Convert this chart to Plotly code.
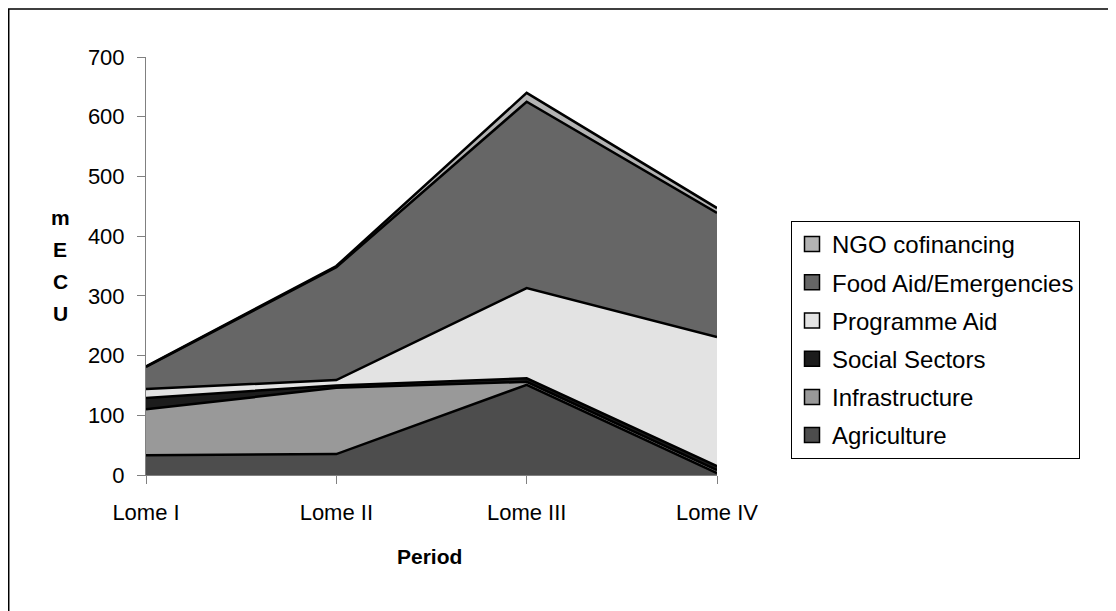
import plotly.graph_objects as go

periods = ["Lome I", "Lome II", "Lome III", "Lome IV"]
agriculture = [33, 35, 151, 3]
infrastructure = [77, 111, 5, 5]
social_sectors = [19, 4, 6, 7]
programme_aid = [15, 9, 151, 216]
food_aid = [37, 189, 312, 208]
ngo_cofinancing = [1, 2, 15, 8]

series = [
    ("Agriculture", agriculture, "#4d4d4d"),
    ("Infrastructure", infrastructure, "#999999"),
    ("Social Sectors", social_sectors, "#1c1c1c"),
    ("Programme Aid", programme_aid, "#e3e3e3"),
    ("Food Aid/Emergencies", food_aid, "#666666"),
    ("NGO cofinancing", ngo_cofinancing, "#b3b3b3"),
]
y_title_letters = ["m", "E", "C", "U"]

FONT = "Liberation Sans, Arial, sans-serif"

fig = go.Figure()
for name, vals, col in series:
    fig.add_trace(go.Scatter(
        x=periods, y=vals, name=name, mode="lines",
        stackgroup="one", showlegend=False,
        line=dict(color="black", width=2.5),
        fillcolor=col,
    ))
# legend entries with square swatches (top of stack listed first)
for name, vals, col in reversed(series):
    fig.add_trace(go.Scatter(
        x=[None], y=[None], name=name, mode="markers", legendgroup=name,
        marker=dict(symbol="square", size=15, color=col,
                    line=dict(color="black", width=1.5)),
    ))

W, H = 1116, 611
# page body has an 8px margin, so figure coords = page coords - 8
L, R, T, B = 138, 407, 49, 144

annotations = []
for i, letter in enumerate(y_title_letters):
    annotations.append(dict(
        text="<b>%s</b>" % letter, xref="paper", yref="paper",
        x=-0.1506, y=0.6172 - i * 0.0766, xanchor="center", yanchor="middle",
        showarrow=False, font=dict(family=FONT, size=21)))
annotations.append(dict(
    text="<b>Period</b>", xref="paper", yref="paper",
    x=0.497, y=-0.196, xanchor="center", yanchor="middle", showarrow=False,
    font=dict(family=FONT, size=21)))

fig.update_layout(
    width=W, height=H,
    margin=dict(l=L, r=R, t=T, b=B),
    paper_bgcolor="white", plot_bgcolor="white",
    font=dict(family=FONT, size=22, color="black"),
    showlegend=True,
    legend=dict(
        x=1.1296, y=0.6077, xanchor="left", yanchor="top",
        bordercolor="black", borderwidth=1,
        traceorder="grouped", tracegroupgap=4,
        font=dict(family=FONT, size=24),
        itemwidth=30,
    ),
    xaxis=dict(
        type="category", range=[0, 3],
        showline=True, linecolor="#808080", linewidth=1,
        ticks="outside", ticklen=8, tickcolor="#808080",
        showgrid=False, zeroline=False,
        ticklabelstandoff=10,
    ),
    yaxis=dict(
        range=[0, 700], dtick=100,
        showline=True, linecolor="#808080", linewidth=1,
        ticks="outside", ticklen=8, tickcolor="#808080",
        showgrid=False, zeroline=False,
        ticklabelstandoff=8,
    ),
    annotations=annotations,
    shapes=[
        dict(type="rect", xref="paper", yref="paper",
             x0=-0.2404, y0=-0.6, x1=1.9, y1=1.1148,
             line=dict(color="black", width=1.5), layer="below"),
    ],
)

fig.write_html("out.html")
